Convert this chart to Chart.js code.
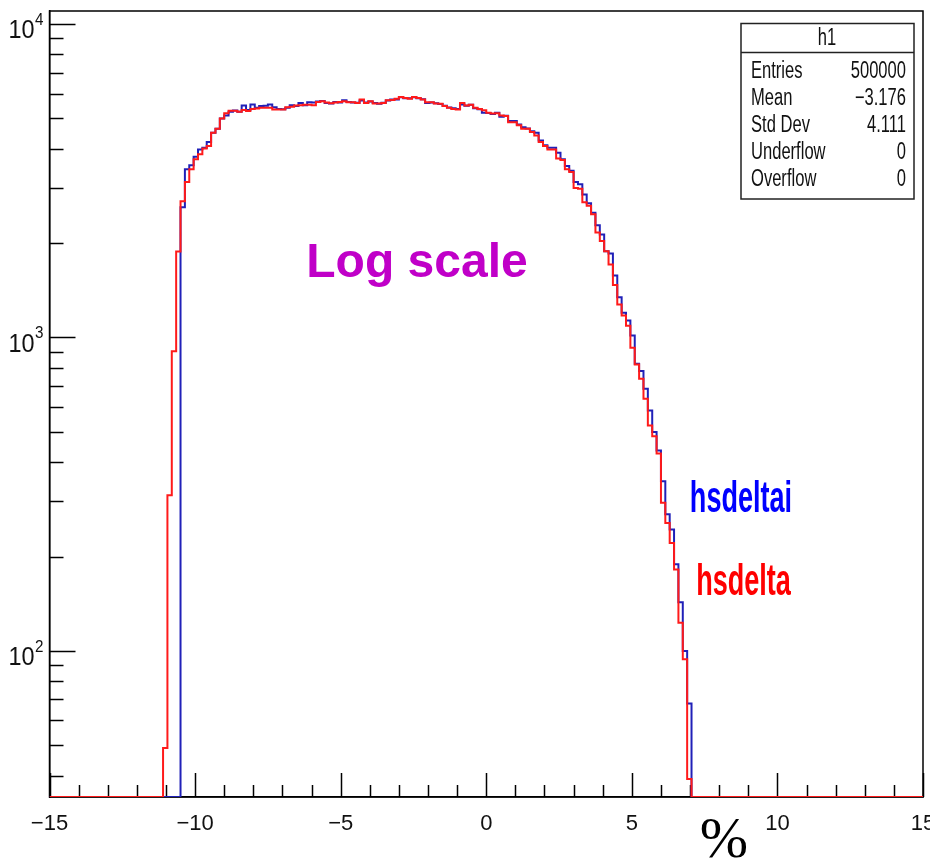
<!DOCTYPE html>
<html>
<head>
<meta charset="utf-8">
<title>hsdelta log scale</title>
<script src="https://cdn.jsdelivr.net/npm/chart.js@4.4.1/dist/chart.umd.min.js"></script>
<style>
  html, body { margin: 0; padding: 0; background: #fff; }
  #wrap { width: 930px; height: 862px; position: relative; }
</style>
</head>
<body>
<div id="wrap"><canvas id="hist"></canvas></div>
<script>
"use strict";

// histogram binning: 200 bins from -15 to 15, filled bins start at FIRST_BIN
const X_MIN = -15;
const X_MAX = 15;
const N_BINS = 200;
const FIRST_BIN = 26;
const Y_MIN = 34.2;
const Y_MAX = 11000;

// hsdelta (red), bins 26..146
const hsdelta = [
  49, 314, 904, 1880, 2720, 3130, 3440, 3700, 3840, 4010,
  4080, 4500, 4630, 4990, 5190, 5290, 5290, 5250, 5320, 5280,
  5360, 5370, 5400, 5400, 5400, 5340, 5340, 5340, 5420, 5440,
  5490, 5500, 5520, 5520, 5500, 5640, 5670, 5620, 5590, 5620,
  5640, 5670, 5630, 5630, 5600, 5740, 5600, 5670, 5580, 5580,
  5600, 5710, 5720, 5770, 5850, 5810, 5770, 5850, 5810, 5740,
  5630, 5630, 5580, 5570, 5470, 5400, 5360, 5340, 5600, 5490,
  5530, 5400, 5360, 5310, 5210, 5180, 5190, 5110, 5090, 4860,
  4860, 4750, 4630, 4630, 4520, 4410, 4200, 4080, 3980, 3980,
  3720, 3680, 3440, 3370, 3000, 2980, 2700, 2630, 2470, 2160,
  2030, 1885, 1710, 1470, 1275, 1175, 1090, 927, 820, 739,
  638, 524, 484, 426, 297, 256, 221, 182, 123, 94,
  39
];

// hsdeltai (blue), bins 26..146
const hsdeltai = [
  0, 0, 0, 0, 2600, 3440, 3540, 3770, 3980, 4030,
  4200, 4500, 4630, 4990, 5110, 5250, 5300, 5250, 5490, 5320,
  5540, 5400, 5470, 5480, 5540, 5420, 5360, 5350, 5400, 5500,
  5470, 5600, 5500, 5630, 5620, 5660, 5680, 5600, 5580, 5640,
  5620, 5710, 5640, 5620, 5610, 5700, 5620, 5660, 5600, 5570,
  5610, 5700, 5740, 5740, 5840, 5800, 5790, 5840, 5800, 5750,
  5600, 5620, 5590, 5560, 5480, 5410, 5380, 5360, 5540, 5480,
  5520, 5380, 5350, 5210, 5200, 5160, 5210, 5060, 5100, 4900,
  4900, 4780, 4680, 4640, 4550, 4500, 4250, 4100, 4030, 4030,
  3880, 3700, 3520, 3400, 3130, 3080, 2860, 2680, 2500, 2280,
  2130, 1885, 1853, 1577, 1344, 1199, 1133, 1015, 825, 781,
  686, 585, 499, 436, 348, 273, 244, 189, 143, 100,
  68
];

const xTickValues = [-15, -10, -5, 0, 5, 10, 15];
const xTickLabels = ["\u221215", "\u221210", "\u22125", "0", "5", "10", "15"];
const yTickValues = [100, 1000, 10000];
const yTickBase = ["10", "10", "10"];
const yTickExps = ["2", "3", "4"];

const statTitle = "h1";
const statNames = ["Entries", "Mean", "Std Dev", "Underflow", "Overflow"];
const statValues = ["500000", "\u22123.176", "4.111", "0", "0"];

const NARROW = "'Liberation Sans Narrow', 'Liberation Sans', Arial, sans-serif";

// step outline of a histogram, empty bins sit on the frame floor
function histPoints(counts) {
  const w = (X_MAX - X_MIN) / N_BINS;
  const pts = [{ x: X_MIN, y: Y_MIN }];
  counts.forEach((c, i) => pts.push({ x: X_MIN + (FIRST_BIN + i) * w, y: c > 0 ? c : Y_MIN }));
  pts.push({ x: X_MIN + (FIRST_BIN + counts.length) * w, y: Y_MIN });
  pts.push({ x: X_MAX, y: Y_MIN });
  return pts;
}

function drawText(ctx, text, x, y, font, color, align, sx) {
  ctx.save();
  ctx.font = font;
  ctx.fillStyle = color;
  ctx.textAlign = align;
  ctx.textBaseline = "alphabetic";
  ctx.translate(x, y);
  ctx.scale(sx, 1);
  ctx.fillText(text, 0, 0);
  ctx.restore();
}

function noScalePadding(scale) {
  scale.paddingLeft = 0;
  scale.paddingRight = 0;
  scale.paddingTop = 0;
  scale.paddingBottom = 0;
}

const rootFrame = {
  id: "rootFrame",
  beforeDatasetsDraw(chart) {
    const { ctx, chartArea: a, scales: { x, y } } = chart;
    ctx.save();
    ctx.strokeStyle = "#000";
    ctx.lineWidth = 1.5;
    ctx.strokeRect(a.left, a.top, a.right - a.left, a.bottom - a.top);
    ctx.beginPath();
    for (let v = X_MIN; v <= X_MAX; v++) {
      const px = Math.round(x.getPixelForValue(v)) + 0.5;
      const len = v % 5 === 0 ? 24 : 12;
      ctx.moveTo(px, a.bottom);
      ctx.lineTo(px, a.bottom - len);
    }
    for (let d = 10; d <= 10000; d *= 10) {
      for (let m = 1; m <= 9; m++) {
        const v = m * d;
        if (v < Y_MIN || v > Y_MAX) continue;
        const py = Math.round(y.getPixelForValue(v)) + 0.5;
        ctx.moveTo(a.left, py);
        ctx.lineTo(a.left + (m === 1 ? 26 : 14), py);
      }
    }
    ctx.stroke();
    ctx.restore();

    // y labels with raised exponent, ROOT style
    yTickValues.forEach((v, i) => {
      const py = y.getPixelForValue(v);
      drawText(ctx, yTickBase[i], 34.5, py + 14.5, "26px " + NARROW, "#111", "right", 0.9);
      drawText(ctx, yTickExps[i], 35, py + 1, "16px " + NARROW, "#111", "left", 0.95);
    });
  },
  afterDraw(chart) {
    const ctx = chart.ctx;
    // stats box
    const bx = 741, by = 23.5, bw = 173, bh = 175.5;
    ctx.save();
    ctx.fillStyle = "#fff";
    ctx.fillRect(bx, by, bw, bh);
    ctx.strokeStyle = "#222";
    ctx.lineWidth = 1.5;
    ctx.strokeRect(bx, by, bw, bh);
    ctx.beginPath();
    ctx.moveTo(bx, by + 29);
    ctx.lineTo(bx + bw, by + 29);
    ctx.stroke();
    ctx.restore();
    const statFont = "23px " + NARROW;
    drawText(ctx, statTitle, 827, 45, statFont, "#111", "center", 0.72);
    statNames.forEach((name, i) => {
      const base = 78.3 + i * 26.85;
      drawText(ctx, name, 751, base, statFont, "#111", "left", 0.72);
      drawText(ctx, statValues[i], 906, base, statFont, "#111", "right", 0.72);
    });

    // annotations
    drawText(ctx, "Log scale", 417, 277, "bold 48px 'Liberation Sans', Arial, sans-serif", "#c000c8", "center", 1.0);
    drawText(ctx, "hsdeltai", 741, 512, "bold 44px " + NARROW, "#0000ff", "center", 0.615);
    drawText(ctx, "hsdelta", 743.5, 595, "bold 44px " + NARROW, "#ff0000", "center", 0.615);
    drawText(ctx, "%", 724, 857, "58px 'Liberation Serif', 'Times New Roman', serif", "#000", "center", 1);
  }
};

new Chart(document.getElementById("hist"), {
  type: "line",
  data: {
    datasets: [
      {
        label: "hsdelta",
        data: histPoints(hsdelta),
        borderColor: "#ff1a1a",
        borderWidth: 2,
        stepped: true,
        pointRadius: 0,
        fill: false
      },
      {
        label: "hsdeltai",
        data: histPoints(hsdeltai),
        borderColor: "#2020b8",
        borderWidth: 2,
        stepped: true,
        pointRadius: 0,
        fill: false
      }
    ]
  },
  options: {
    responsive: true,
    maintainAspectRatio: false,
    animation: false,
    layout: { padding: { left: 0, top: 11, right: 7, bottom: 0 } },
    plugins: {
      legend: { display: false },
      tooltip: { enabled: false }
    },
    scales: {
      x: {
        type: "linear",
        min: X_MIN,
        max: X_MAX,
        afterBuildTicks: scale => {
          scale.ticks = xTickValues.map(v => ({ value: v }));
        },
        afterFit: scale => {
          scale.height = 65;
          noScalePadding(scale);
        },
        grid: { display: false, drawTicks: false },
        border: { display: true, color: "#000", width: 1.5 },
        ticks: {
          maxRotation: 0,
          autoSkip: false,
          padding: 14,
          color: "#111",
          font: { family: NARROW, size: 22 },
          callback: v => xTickLabels[xTickValues.indexOf(v)]
        }
      },
      y: {
        type: "logarithmic",
        min: Y_MIN,
        max: Y_MAX,
        afterBuildTicks: scale => {
          scale.ticks = yTickValues.map(v => ({ value: v, major: true }));
        },
        afterFit: scale => {
          scale.width = 49.5;
          noScalePadding(scale);
        },
        grid: { display: false, drawTicks: false },
        border: { display: true, color: "#000", width: 1.5 },
        ticks: { display: false }
      }
    }
  },
  plugins: [rootFrame]
});
</script>
</body>
</html>
